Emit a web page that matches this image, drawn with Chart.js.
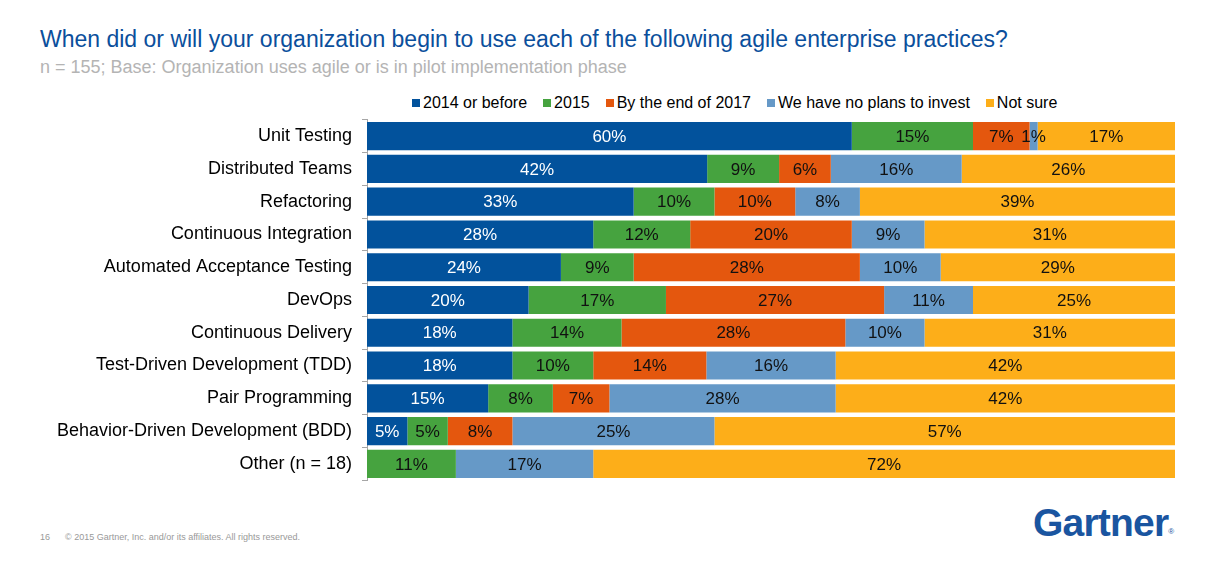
<!DOCTYPE html>
<html>
<head>
<meta charset="utf-8">
<script src="https://cdn.jsdelivr.net/npm/chart.js@4/dist/chart.umd.min.js"></script>
<style>
  body { margin: 0; background: #fff; font-family: "Liberation Sans", Arial, sans-serif; }
  #page { position: relative; width: 1218px; height: 572px; overflow: hidden; }
  .title { position: absolute; left: 40px; top: 26px; font-size: 23px; color: #0B4F9C; white-space: nowrap; }
  .subtitle { position: absolute; left: 40px; top: 57px; font-size: 18px; color: #B4B4B4; white-space: nowrap; }
  #legend { position: absolute; left: 412px; top: 94px; font-size: 16px; color: #000; display: flex; white-space: nowrap; }
  #legend span.item { margin-right: 16px; display: flex; align-items: center; }
  #legend span.box { width: 8px; height: 8px; margin-right: 3px; display: inline-block; }
  .chart-box { position: absolute; left: 0; top: 99px; width: 1218px; height: 402px; }
  .footer { position: absolute; left: 40px; top: 532px; font-size: 9px; color: #999; white-space: nowrap; }
  .logo { position: absolute; left: 1033px; top: 501px; font-size: 39px; font-weight: bold; color: #1A55A0; letter-spacing: -0.8px; }
  .logo sup { font-size: 8px; font-weight: normal; letter-spacing: 0; vertical-align: 2px; }
</style>
</head>
<body>
<div id="page">
  <div class="title">When did or will your organization begin to use each of the following agile enterprise practices?</div>
  <div class="subtitle">n = 155; Base: Organization uses agile or is in pilot implementation phase</div>
  <div id="legend"></div>
  <div class="chart-box"><canvas id="barChart"></canvas></div>
  <div class="footer">16&nbsp;&nbsp;&nbsp;&nbsp;&nbsp;&nbsp;© 2015 Gartner, Inc. and/or its affiliates. All rights reserved.</div>
  <div class="logo">Gartner<sup>®</sup></div>
</div>

<script>
// practices, top to bottom
const practices = [
  "Unit Testing",
  "Distributed Teams",
  "Refactoring",
  "Continuous Integration",
  "Automated Acceptance Testing",
  "DevOps",
  "Continuous Delivery",
  "Test-Driven Development (TDD)",
  "Pair Programming",
  "Behavior-Driven Development (BDD)",
  "Other (n = 18)"
];

const seriesNames = ["2014 or before", "2015", "By the end of 2017", "We have no plans to invest", "Not sure"];
const seriesColors = ["#02529C", "#46A33F", "#E4570E", "#6699C7", "#FDAE19"];

// percentages (labels are rounded)
const before2014 = [60, 42.1, 33, 28, 24, 20, 18, 18, 15, 5, 0];
const in2015     = [15, 8.9, 10, 12, 9, 17, 13.5, 10, 8, 5, 11];
const by2017     = [7, 6.4, 10, 20, 28, 27, 27.7, 14, 7, 8, 0];
const noPlans    = [1, 16.2, 8, 9, 10, 11, 9.8, 16, 28, 25, 17];
const notSure    = [17, 26.4, 39, 31, 29, 25, 31, 42, 42, 57, 72];

const seriesData = [before2014, in2015, by2017, noPlans, notSure];

/* ===========================
   LEGEND (html)
=========================== */
const legendEl = document.getElementById("legend");
seriesNames.forEach((name, i) => {
  const item = document.createElement("span");
  item.className = "item";
  item.innerHTML = '<span class="box" style="background:' + seriesColors[i] + '"></span>' + name;
  legendEl.appendChild(item);
});

/* ===========================
   VALUE LABELS IN BARS
=========================== */
const barLabels = {
  id: "barLabels",
  afterDatasetsDraw(chart) {
    const ctx = chart.ctx;
    ctx.save();
    ctx.font = "17px 'Liberation Sans', Arial, sans-serif";
    ctx.textAlign = "center";
    ctx.textBaseline = "middle";
    chart.data.datasets.forEach((ds, di) => {
      const meta = chart.getDatasetMeta(di);
      meta.data.forEach((bar, i) => {
        const v = ds.data[i];
        if (!v) return;
        ctx.fillStyle = di === 0 ? "#fff" : "#111";
        const cx = (bar.x + bar.base) / 2;
        ctx.fillText(Math.round(v) + "%", cx, bar.y + 1);
      });
    });
    ctx.restore();
  }
};

/* ===========================
   BAR CHART
=========================== */
const barCtx = document.getElementById("barChart").getContext("2d");

new Chart(barCtx, {
  type: "bar",
  data: {
    labels: practices,
    datasets: seriesNames.map((name, i) => ({
      label: name,
      data: seriesData[i],
      backgroundColor: seriesColors[i],
      barPercentage: 0.86,
      categoryPercentage: 1
    }))
  },
  plugins: [barLabels],
  options: {
    indexAxis: "y",
    responsive: true,
    maintainAspectRatio: false,
    animation: false,
    layout: { padding: { left: 0, right: 43, top: 0, bottom: 0 } },
    plugins: {
      legend: { display: false },
      tooltip: { enabled: false }
    },
    scales: {
      x: {
        stacked: true,
        min: 0,
        max: 100,
        display: false
      },
      y: {
        stacked: true,
        afterFit(scale) { scale.width = 367; },
        border: { display: true, color: "#A6A6A6", width: 1 },
        grid: {
          offset: true,
          drawOnChartArea: false,
          drawTicks: true,
          tickLength: 5,
          color: "#A6A6A6"
        },
        ticks: {
          color: "#000",
          padding: 10,
          font: { family: "'Liberation Sans', Arial, sans-serif", size: 18 }
        }
      }
    }
  }
});
</script>
</body>
</html>
